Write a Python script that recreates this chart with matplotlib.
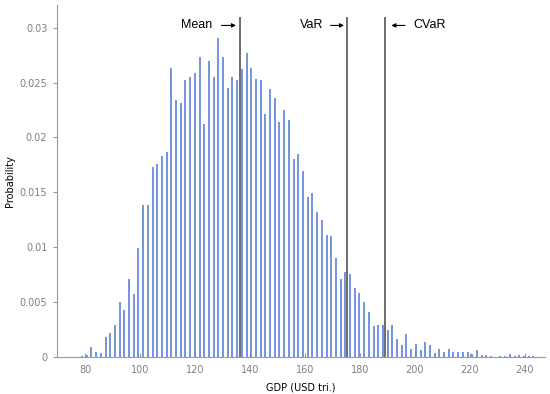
import matplotlib
matplotlib.use("Agg")
import matplotlib.pyplot as plt
import numpy as np

# histogram of simulated GDP (bin start, bin width, probability per bin)
bin_start = 78.9
bin_width = 1.71
probability = [
    0.0001, 0.0002, 0.0009, 0.0005, 0.0004, 0.0018, 0.0022, 0.0029, 0.0050, 0.0043,
    0.0071, 0.0057, 0.0099, 0.0138, 0.0138, 0.0173, 0.0176, 0.0183, 0.0187, 0.0263,
    0.0234, 0.0231, 0.0252, 0.0255, 0.0259, 0.0273, 0.0212, 0.0270, 0.0255, 0.0291,
    0.0273, 0.0245, 0.0255, 0.0252, 0.0262, 0.0277, 0.0263, 0.0253, 0.0252, 0.0221,
    0.0244, 0.0236, 0.0214, 0.0225, 0.0216, 0.0180, 0.0185, 0.0169, 0.0146, 0.0149,
    0.0132, 0.0125, 0.0111, 0.0110, 0.0090, 0.0071, 0.0077, 0.0076, 0.0063, 0.0058,
    0.0050, 0.0041, 0.0028, 0.0029, 0.0029, 0.0025, 0.0029, 0.0016, 0.0011, 0.0021,
    0.0007, 0.0012, 0.0006, 0.0014, 0.0011, 0.0004, 0.0007, 0.0005, 0.0007, 0.0005,
    0.0005, 0.0005, 0.0005, 0.0003, 0.0006, 0.0002, 0.0002, 0.0001, 0.0000, 0.0001,
    0.0001, 0.0003, 0.0001, 0.0002, 0.0001, 0.0001, 0.0001,
]

# risk measures
mean_gdp = 136.4
var_gdp = 175.3
cvar_gdp = 189.1

x_ticks = [80, 100, 120, 140, 160, 180, 200, 220, 240]
y_ticks = [0, 0.005, 0.01, 0.015, 0.02, 0.025, 0.03]
y_tick_labels = ["0", "0.005", "0.01", "0.015", "0.02", "0.025", "0.03"]

gdp = bin_start + bin_width * np.arange(len(probability))

fig = plt.figure(figsize=(5.5, 3.94), dpi=100)
ax = fig.add_axes([0.1036, 0.0939, 0.8874, 0.8931])

ax.vlines(gdp, 0, probability, color="#5b82dc", lw=1.2)

line_top = 0.031
for xv in (mean_gdp, var_gdp, cvar_gdp):
    ax.vlines(xv, 0, line_top, color="#555555", lw=1.2)

label_font = dict(family="Liberation Sans", fontsize=9, color="black", va="center", ha="center")
arrow = dict(arrowstyle="-|>", color="black", lw=0.8, mutation_scale=6, shrinkA=0, shrinkB=0)
ty = 0.0302
ax.text(120.7, ty, "Mean", **label_font)
ax.annotate("", xy=(134.9, ty), xytext=(129.6, ty), arrowprops=arrow)
ax.text(162.5, ty, "VaR", **label_font)
ax.annotate("", xy=(174.2, ty), xytext=(169.3, ty), arrowprops=arrow)
ax.text(205.5, ty, "CVaR", **label_font)
ax.annotate("", xy=(191.4, ty), xytext=(196.4, ty), arrowprops=arrow)

ax.set_xlim(69.8, 247.3)
ax.set_ylim(0, 0.03205)
ax.set_xticks(x_ticks)
ax.set_yticks(y_ticks)
ax.set_yticklabels(y_tick_labels)

for side in ("top", "right"):
    ax.spines[side].set_visible(False)
for side in ("left", "bottom"):
    ax.spines[side].set_color("#9a9a9a")
    ax.spines[side].set_linewidth(0.8)

ax.tick_params(axis="x", direction="in", length=3, color="#9a9a9a", labelsize=7,
               labelcolor="#808080", pad=6)
ax.tick_params(axis="y", direction="out", length=3, color="#9a9a9a", labelsize=7,
               labelcolor="#808080", pad=4)

ax.set_xlabel("GDP (USD tri.)", fontsize=7, labelpad=5)
ax.set_ylabel("Probability", fontsize=7)
ax.yaxis.set_label_coords(-0.086, 0.5)

fig.savefig("out.png", dpi=100)
